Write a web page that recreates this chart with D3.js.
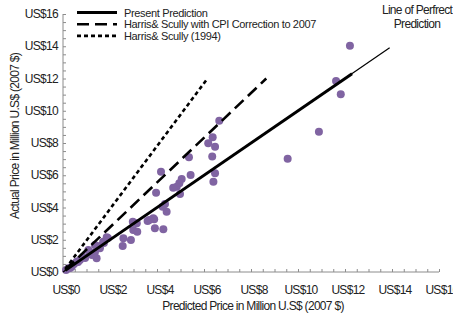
<!DOCTYPE html>
<html>
<head>
<meta charset="utf-8">
<script src="https://cdn.jsdelivr.net/npm/d3@7"></script>
<style>
  body { margin: 0; background: #fff; }
  svg text { font-family: "Liberation Sans", Arial, sans-serif; font-size: 12px; letter-spacing: -0.7px; fill: #222; }
  svg text.legend { font-size: 11px; letter-spacing: -0.35px; }
</style>
</head>
<body>
<div id="chart"></div>
<script>
  // observed sales, predicted vs actual, million US$ (2007 $)
  var predicted = [12.21, 11.62, 11.82, 10.89, 9.56, 6.65, 6.37, 6.18, 6.47, 6.35,
                   5.36, 6.47, 6.40, 5.43, 5.05, 4.95, 4.84, 4.69, 4.98, 4.17,
                   3.96, 4.34, 4.41, 4.24, 3.84, 3.67, 3.60, 3.91, 4.27, 2.97,
                   3.14, 2.99, 3.16, 2.57, 2.89, 2.54, 1.86, 1.71, 1.36, 1.57,
                   1.43, 0.86, 0.72, 0.58, 0.23, 0.37, 1.15, 1.08, 0.47, 0.64,
                   0.94, 1.23, 1.36, 1.57, 1.74, 1.91, 0.13, 0.30, 3.88];
  var actual    = [14.03, 11.84, 11.02, 8.70, 7.02, 9.38, 8.35, 7.98, 7.77, 7.16,
                   7.11, 6.12, 5.60, 6.02, 5.77, 5.50, 5.29, 5.23, 4.84, 6.22,
                   4.92, 4.22, 3.74, 4.05, 3.33, 3.22, 3.16, 2.71, 2.65, 3.12,
                   3.02, 2.60, 2.50, 2.09, 1.98, 1.61, 2.15, 1.88, 1.67, 1.47,
                   0.85, 0.95, 0.74, 0.64, 0.23, 0.33, 1.16, 1.36, 0.50, 0.62,
                   0.87, 1.05, 1.24, 1.61, 1.80, 2.11, 0.12, 0.25, 3.27];

  // model lines: [x0, y0, x1, y1]
  var presentLine = [0.1, 0.1, 12.3, 12.3];
  var perfectLine = [0, 0, 13.9, 13.9];
  var cpiLine     = [0.1, 0.14, 8.65, 12.0];
  var hs1994Line  = [0.1, 0.2, 6.15, 12.0];

  var legendLabels = ["Present Prediction",
                      "Harris& Scully with CPI Correction to 2007",
                      "Harris& Scully (1994)"];
  var xTicks = [0, 2, 4, 6, 8, 10, 12, 14, 16];
  var yTicks = [0, 2, 4, 6, 8, 10, 12, 14, 16];

  var width = 453, height = 316;

  var svg = d3.select("#chart")
              .append("svg")
              .attr("width", width)
              .attr("height", height);

  var x = d3.scaleLinear().domain([0, 16]).range([63, 439]);
  var y = d3.scaleLinear().domain([0, 16]).range([272, 14]);

  var axisColor = "#8c8c8c";

  // y axis
  var yAxis = svg.append("g")
                 .attr("transform", "translate(63,0)")
                 .call(d3.axisRight(y)
                         .tickValues(d3.range(0, 16.01, 0.5))
                         .tickSize(3)
                         .tickFormat(""));
  yAxis.selectAll("line, path").attr("stroke", axisColor);
  yAxis.select("path").attr("d", "M0," + y(16) + "V" + y(0));

  svg.selectAll(".ylab")
     .data(yTicks)
     .enter()
     .append("text")
     .attr("class", "ylab")
     .attr("x", 58)
     .attr("y", function (d) { return y(d) + 4; })
     .attr("text-anchor", "end")
     .text(function (d) { return "US$" + d; });

  // x axis
  var xAxis = svg.append("g")
                 .attr("transform", "translate(0,272)")
                 .call(d3.axisTop(x)
                         .tickValues(d3.range(0, 16.01, 0.5))
                         .tickSize(3)
                         .tickFormat(""));
  xAxis.selectAll("line, path").attr("stroke", axisColor);
  xAxis.select("path").attr("d", "M" + x(0) + ",0H" + x(16));

  svg.selectAll(".xlab")
     .data(xTicks)
     .enter()
     .append("text")
     .attr("class", "xlab")
     .attr("x", function (d) { return x(d) + 3; })
     .attr("y", 294)
     .attr("text-anchor", "middle")
     .text(function (d) { return "US$" + d; });

  // axis titles
  svg.append("text")
     .attr("transform", "translate(19,136) rotate(-90)")
     .attr("text-anchor", "middle")
     .text("Actual Price in Million U.S$ (2007 $)");

  svg.append("text")
     .attr("x", 253)
     .attr("y", 310)
     .attr("text-anchor", "middle")
     .text("Predicted Price in Million U.S$ (2007 $)");

  // points
  svg.append("g")
     .selectAll("circle")
     .data(predicted)
     .enter()
     .append("circle")
     .attr("cx", function (d) { return x(d); })
     .attr("cy", function (d, i) { return y(actual[i]); })
     .attr("r", 4)
     .attr("fill", "#8064a2");

  function drawLine(seg, w, dash) {
    var l = svg.append("line")
               .attr("x1", x(seg[0]))
               .attr("y1", y(seg[1]))
               .attr("x2", x(seg[2]))
               .attr("y2", y(seg[3]))
               .attr("stroke", "#000")
               .attr("stroke-width", w);
    if (dash) { l.attr("stroke-dasharray", dash); }
  }

  drawLine(perfectLine, 1.2, null);
  drawLine(presentLine, 3, null);
  drawLine(cpiLine, 2.6, "12,6");
  drawLine(hs1994Line, 2.6, "4,3");

  // legend
  var legendStyles = [[3, null], [2.6, "12,6"], [2.6, "4,3"]];
  legendLabels.forEach(function (label, i) {
    var ly = 12.5 + i * 11.7;
    svg.append("line")
       .attr("x1", 77)
       .attr("x2", 117)
       .attr("y1", ly)
       .attr("y2", ly)
       .attr("stroke", "#000")
       .attr("stroke-width", legendStyles[i][0])
       .attr("stroke-dasharray", legendStyles[i][1]);
    svg.append("text")
       .attr("class", "legend")
       .attr("x", 124)
       .attr("y", ly + 4)
       .text(label);
  });

  // annotation
  svg.append("text")
     .attr("x", 417)
     .attr("y", 14)
     .attr("text-anchor", "middle")
     .text("Line of Perfrect");
  svg.append("text")
     .attr("x", 417)
     .attr("y", 28)
     .attr("text-anchor", "middle")
     .text("Prediction");
</script>
</body>
</html>
